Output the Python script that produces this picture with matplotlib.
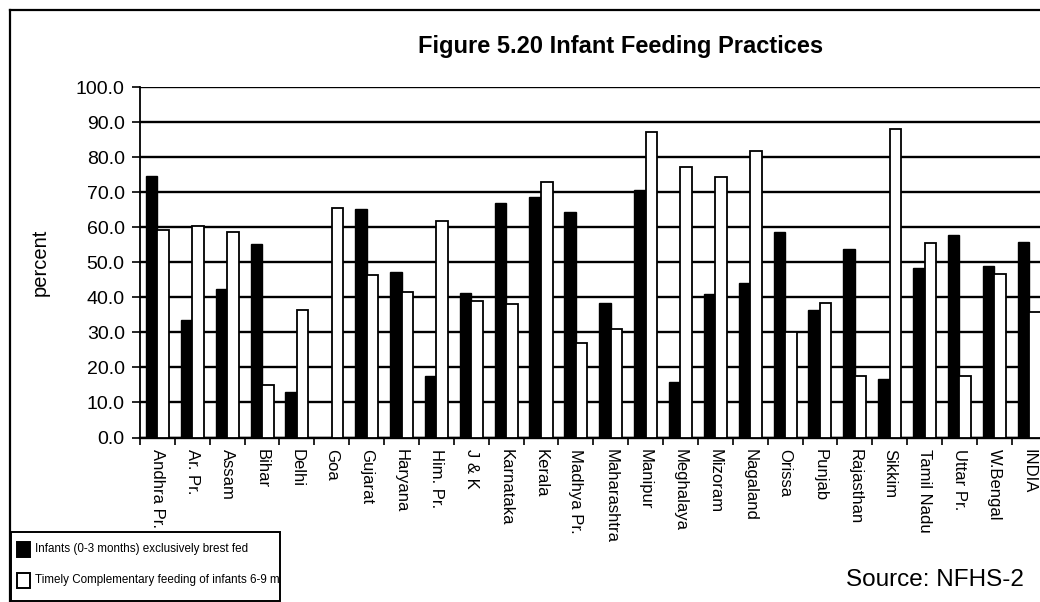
import matplotlib
matplotlib.use("Agg")
import matplotlib.pyplot as plt
from matplotlib.lines import Line2D
from matplotlib.patches import Rectangle
import numpy as np

states = ["Andhra Pr.", "Ar. Pr.", "Assam", "Bihar", "Delhi", "Goa", "Gujarat",
          "Haryana", "Him. Pr.", "J & K", "Karnataka", "Kerala", "Madhya Pr.",
          "Maharashtra", "Manipur", "Meghalaya", "Mizoram", "Nagaland", "Orissa",
          "Punjab", "Rajasthan", "Sikkim", "Tamil Nadu", "Uttar Pr.", "W.Bengal",
          "INDIA"]
exclusive_bf = [74.6, 33.5, 42.3, 55.2, 12.9, 0.0, 65.1, 47.3, 17.5, 41.1, 66.8,
                68.5, 64.4, 38.3, 70.6, 15.7, 40.9, 44.2, 58.5, 36.4, 53.8, 16.6,
                48.4, 57.7, 49.0, 55.8]
complementary = [59.2, 60.3, 58.7, 14.9, 36.4, 65.5, 46.3, 41.6, 61.8, 38.9, 38.1,
                 73.0, 26.9, 30.9, 87.2, 77.1, 74.2, 81.8, 30.0, 38.3, 17.5, 87.9,
                 55.6, 17.6, 46.7, 35.9]
yticks = [0, 10, 20, 30, 40, 50, 60, 70, 80, 90, 100]
series_names = ["Infants (0-3 months) exclusively brest fed",
                "Timely Complementary feeding of infants 6-9 mths"]
series_colors = ["black", "white"]

plt.rcParams['font.family'] = ['Liberation Sans', 'DejaVu Sans']

W, H = 1040, 602
fig = plt.figure(figsize=(W / 100, H / 100), dpi=100)


def fx(px):
    return px / W


def fy(py):
    return 1 - py / H


left, right, top, bottom = 140, 1046.6, 87, 437.5
ax = fig.add_axes([fx(left), fy(bottom), (right - left) / W, (bottom - top) / H])

x = np.arange(len(states))
bw = 0.33
ax.bar(x - bw / 2, exclusive_bf, width=bw, color=series_colors[0], edgecolor='black',
       linewidth=1.0, zorder=3)
ax.bar(x + bw / 2, complementary, width=bw, color=series_colors[1], edgecolor='black',
       linewidth=1.3, zorder=3)

ax.set_xlim(-0.5, len(states) - 0.5)
ax.set_ylim(0, 100)
ax.set_yticks(yticks)
ax.set_yticklabels([f"{v:.1f}" for v in yticks], fontsize=14)
ax.yaxis.grid(True, color='black', linewidth=1.7, zorder=1)
ax.set_axisbelow(True)

ax.set_xticks(x)
ax.set_xticklabels(states, rotation=270, fontsize=12, va='top', ha='center')
ax.tick_params(axis='x', which='major', length=0, pad=8)
ax.set_xticks(np.arange(len(states) + 1) - 0.5, minor=True)
ax.tick_params(axis='x', which='minor', length=5, width=1.2, direction='out')
ax.tick_params(axis='y', length=6, width=1.2, direction='out', pad=5)

for s in ['top', 'right']:
    ax.spines[s].set_visible(False)
ax.spines['left'].set_linewidth(1.3)
ax.spines['bottom'].set_linewidth(1.7)

fig.text(fx(40), fy(262), "percent", rotation=90, fontsize=14.5,
         ha='center', va='center')
fig.text(fx(621), fy(47), "Figure 5.20 Infant Feeding Practices",
         fontsize=17, fontweight='bold', ha='center', va='center')
fig.text(fx(846), fy(580), "Source: NFHS-2", fontsize=17.5,
         ha='left', va='center')

# outer frame lines
fig.add_artist(Line2D([fx(10), 1.0], [fy(10), fy(10)], color='black',
                      linewidth=1.6, transform=fig.transFigure))
fig.add_artist(Line2D([fx(10), fx(10)], [fy(10), 0], color='black',
                      linewidth=1.6, transform=fig.transFigure))

# legend box (drawn in figure pixel positions)
frame = Rectangle((fx(11), fy(601)), fx(280) - fx(11), fy(532) - fy(601),
                  transform=fig.transFigure, facecolor='white', edgecolor='black',
                  linewidth=1.4, zorder=5)
fig.add_artist(frame)
row_y = [549, 580]
for name, col, ry in zip(series_names, series_colors, row_y):
    fig.add_artist(Rectangle((fx(17), fy(ry + 7.5)), fx(30) - fx(17), fy(ry - 7.5) - fy(ry + 7.5),
                             transform=fig.transFigure, facecolor=col,
                             edgecolor='black', linewidth=1.4, zorder=6))
    t = fig.text(fx(35), fy(ry), name, fontsize=8.4, ha='left', va='center',
                 zorder=6, clip_on=True)
    t.set_clip_path(frame)

fig.savefig("out.png", dpi=100)
